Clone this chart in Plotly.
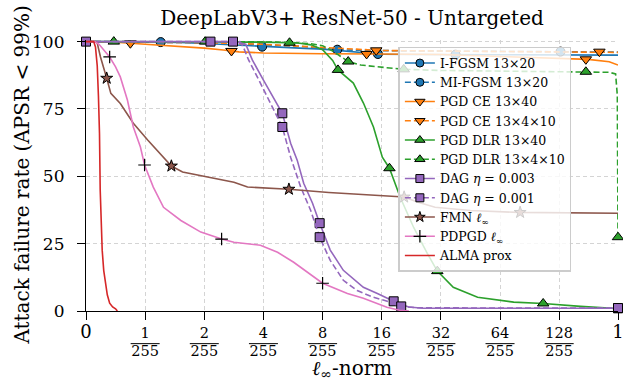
import numpy as np
import plotly.graph_objects as go

# ---------------- data (x in units of 1/255) ----------------
ifgsm_x = [0, 1, 1.5, 2, 3, 4, 5, 6.5, 8, 10, 12, 14, 16, 24, 32, 64, 128, 255]
ifgsm_y = [100, 99.9, 99.7, 99.3, 98.6, 98.1, 97.8, 97.5, 97.2, 96.6, 96.0, 95.6, 95.3, 95.2, 95.2, 95.1, 95.1, 95.0]
ifgsm_marks = [3.94, 15.3, 38]

mifgsm_x = [0, 1, 2, 3, 4, 6, 8, 9.5, 12, 16, 24, 32, 64, 128, 255]
mifgsm_y = [100, 99.9, 99.6, 99.2, 98.8, 98.3, 97.6, 97.0, 96.8, 96.6, 96.5, 96.5, 96.4, 96.3, 96.1]
mifgsm_marks = [1.2, 9.5, 130]

pgdce40_x = [0, 0.5, 1, 1.5, 2, 2.5, 3, 4, 6, 8, 16, 32, 64, 128, 180, 230, 255]
pgdce40_y = [100, 99.8, 99.0, 98.3, 97.6, 96.9, 96.2, 95.8, 95.6, 95.5, 95.4, 95.2, 94.5, 93.8, 93.4, 92.5, 91.3]
pgdce40_marks = [0.75, 2.75, 13.4, 175]

pgdce410_x = [0, 1, 2, 4, 8, 12, 16, 32, 64, 128, 200, 255]
pgdce410_y = [100, 99.9, 99.6, 99.0, 97.8, 97.0, 96.7, 96.5, 96.4, 96.3, 96.3, 96.0]
pgdce410_marks = [15.0, 205]

pgddlr40_x = [0, 2, 4, 6, 7, 8, 9, 9.58, 10.5, 11.47, 12.91, 14.52, 16.11, 17.51, 19.84, 23.26,
              27.28, 30.69, 37.0, 49.2, 75.1, 106.1, 164.3, 239, 255]
pgddlr40_y = [100, 100, 99.8, 99.5, 98.8, 97.0, 93.0, 89.5, 87.0, 84.6, 77.2, 68.3, 57.1, 53.0, 42.3, 31.0,
              21.4, 14.8, 8.8, 5.1, 3.3, 2.8, 1.7, 1.0, 0.3]
pgddlr40_marks = [0.47, 5.43, 9.58, 17.51, 30.69, 106.1]

pgddlr410_x = [0, 2, 4, 5.43, 7, 8, 9, 10.8, 12.5, 15, 17.15, 20.7, 32, 64, 128, 175, 230, 248, 253, 255]
pgddlr410_y = [100, 100, 99.9, 99.7, 99.2, 98.5, 96.5, 92.6, 91.3, 90.7, 90.3, 89.7, 89.3, 89.0, 88.9, 88.8,
               88.6, 88.0, 80.0, 27.4]
pgddlr410_marks = [2.02, 10.8, 20.7, 175, 255]

dag003_x = [0, 2.83, 3.25, 3.51, 4, 4.5, 4.99, 5.5, 5.94, 6.41, 7.11, 7.73, 8.75, 10.2, 12.9, 15.2,
            18.4, 21.9, 26, 32, 64, 128, 255]
dag003_y = [100, 100, 99, 93.2, 85.7, 79.4, 73.4, 62.3, 56, 47.4, 40, 32.6, 22.6, 15.1, 8.8, 6.5,
            3.6, 1.5, 1.0, 1.0, 1.0, 1.0, 1.0]
dag003_marks = [2.8, 4.99, 7.73, 18.4, 255]

dag001_x = [0, 3.03, 3.16, 3.36, 3.86, 4.44, 4.99, 5.5, 6.19, 6.96, 7.73, 8.75, 10.2, 12.0, 14.5, 16.6,
            20.1, 24, 32, 64, 128, 255]
dag001_y = [100, 100, 98, 93.2, 84.6, 75.7, 68.3, 57.1, 46, 37.3, 27.4, 18.8, 11.4, 7.6, 5.1, 3.9,
            1.7, 1.2, 1.1, 1.1, 1.1, 1.1]
dag001_marks = [0, 2.15, 4.99, 7.73, 20.1, 255]

fmn_x = [0, 0.15, 0.19, 0.245, 0.35, 0.42, 0.58, 0.8, 1.03, 1.24, 1.36, 1.55, 2.07, 2.83, 3.32, 5.39,
         8.6, 12.9, 16, 20.8, 24.25, 29.9, 45.3, 78.8, 255]
fmn_y = [100, 100, 99.5, 94.3, 86.4, 80.8, 77, 69.7, 63.5, 57.2, 53.8, 51.6, 49.7, 47.8, 46, 45.2,
         44, 43.3, 43.0, 42.3, 40.5, 38.5, 37.3, 36.6, 36.3]
fmn_marks = [0.35, 1.36, 5.39, 20.8, 81]

pdpgd_x = [0, 0.15, 0.22, 0.3, 0.4, 0.5, 0.58, 0.7, 0.8, 0.92, 0.99, 1.10, 1.24, 1.52, 1.92, 2.45,
           2.83, 3.86, 4.72, 5.70, 7.21, 8, 10.7, 12.9, 17.0, 19.7, 22]
pdpgd_y = [100, 100, 99, 96.9, 94.3, 90.6, 86.9, 78.3, 68.3, 60.9, 54.2, 46, 38.5, 33.6, 29.3, 26.7,
           25.5, 24.4, 21.8, 18.1, 12.5, 10.3, 6.5, 4.7, 1.4, 0.3, 0]
pdpgd_marks = [0.4, 0.99, 2.45, 8]

alma_x = [0, 0.13, 0.16, 0.19, 0.21, 0.228, 0.24, 0.255, 0.274, 0.30, 0.33, 0.36, 0.40, 0.45, 0.50, 0.53]
alma_y = [100, 100, 98, 91, 80, 66, 45, 33, 22.5, 15, 10.3, 6, 2.9, 1.5, 0.8, 0]
alma_marks = []

tick_x = [0, 1, 2, 4, 8, 16, 32, 64, 128, 255]
tick_labels = ["0", "1/255", "2/255", "4/255", "8/255", "16/255", "32/255", "64/255", "128/255", "1"]
y_ticks = [0, 25, 50, 75, 100]

FONT = "DejaVu Serif"
PLOT_W = 623 - 85.5 - 5.3
PLOT_H = 381 - 40.1 - 70.3


def pos(x):
    """linear below 1/255, log2 above (symlog-like scale)"""
    x = np.asarray(x, dtype=float)
    return np.where(x <= 1, x, 1 + np.log2(np.maximum(x, 1)))


series = [
    ("I-FGSM 13×20", ifgsm_x, ifgsm_y, ifgsm_marks, "#1f77b4", "solid", "circle", 9),
    ("MI-FGSM 13×20", mifgsm_x, mifgsm_y, mifgsm_marks, "#1f77b4", "6px,3px", "circle", 9),
    ("PGD CE 13×40", pgdce40_x, pgdce40_y, pgdce40_marks, "#ff7f0e", "solid", "triangle-down", 10),
    ("PGD CE 13×4×10", pgdce410_x, pgdce410_y, pgdce410_marks, "#ff7f0e", "6px,3px", "triangle-down", 10),
    ("PGD DLR 13×40", pgddlr40_x, pgddlr40_y, pgddlr40_marks, "#2ca02c", "solid", "triangle-up", 10),
    ("PGD DLR 13×4×10", pgddlr410_x, pgddlr410_y, pgddlr410_marks, "#2ca02c", "6px,3px", "triangle-up", 10),
    ("DAG <i>η</i> = 0.003", dag003_x, dag003_y, dag003_marks, "#9467bd", "solid", "square", 9),
    ("DAG <i>η</i> = 0.001", dag001_x, dag001_y, dag001_marks, "#9467bd", "6px,3px", "square", 9),
    ("FMN <i>ℓ</i><sub>∞</sub>", fmn_x, fmn_y, fmn_marks, "#8c564b", "solid", "star", 9),
    ("PDPGD <i>ℓ</i><sub>∞</sub>", pdpgd_x, pdpgd_y, pdpgd_marks, "#e377c2", "solid", "cross-thin", 9),
    ("ALMA prox", alma_x, alma_y, alma_marks, "#d62728", "solid", None, 0),
]

fig = go.Figure()
for name, xs, ys, marks, color, dash, sym, msize in series:
    px = pos(xs)
    fig.add_trace(go.Scatter(x=px, y=ys, mode="lines", line=dict(color=color, width=1.6, dash=dash),
                             showlegend=False, hoverinfo="skip"))
    if sym and len(marks):
        mx = pos(marks)
        my = np.interp(mx, px, ys)
        if sym == "cross-thin":
            mk = dict(symbol=sym, size=msize, color="black", line=dict(color="black", width=1.2))
        else:
            mk = dict(symbol=sym, size=msize, color=color, line=dict(color="black", width=1))
        fig.add_trace(go.Scatter(x=mx, y=my, mode="markers", marker=mk, showlegend=False,
                                 cliponaxis=False, hoverinfo="skip"))

# legend entries
for name, xs, ys, marks, color, dash, sym, msize in series:
    if sym:
        if sym == "cross-thin":
            mk = dict(symbol=sym, size=msize, color="black", line=dict(color="black", width=1.2))
        else:
            mk = dict(symbol=sym, size=msize - 1, color=color, line=dict(color="black", width=1))
        mode = "lines+markers"
    else:
        mk = None
        mode = "lines"
    fig.add_trace(go.Scatter(x=[-5], y=[-50], mode=mode, name=name,
                             line=dict(color=color, width=1.6, dash=dash), marker=mk))

tickvals = list(pos(tick_x))
ticktext = []
for lab in tick_labels:
    if "/" in lab:
        n, d = lab.split("/")
        ticktext.append(f"{n}<br>{d}")
    else:
        ticktext.append(f'<span style="font-size:18px">{lab}</span>')

xmax = float(pos(255))
shapes = []
for v, lab in zip(tickvals, tick_labels):
    if "/" in lab:
        xc = v / xmax
        hw = 14.5 / PLOT_W
        yb = (310.7 - 343.3) / PLOT_H
        shapes.append(dict(type="line", xref="paper", yref="paper", x0=xc - hw, x1=xc + hw,
                           y0=yb, y1=yb, line=dict(color="black", width=1)))

annotations = [
    dict(text="Attack failure rate (APSR &lt; 99%)", xref="paper", yref="paper",
         x=(22 - 85.5) / PLOT_W, y=(310.7 - 175) / PLOT_H, xanchor="center", yanchor="middle",
         textangle=-90, showarrow=False, font=dict(size=20)),
    dict(text="<i>ℓ</i><sub>∞</sub>-norm", xref="paper", yref="paper",
         x=0.5, y=(310.7 - 369) / PLOT_H, xanchor="center", yanchor="middle",
         showarrow=False, font=dict(size=20)),
]

fig.update_layout(
    width=623, height=381,
    margin=dict(l=85.5, r=5.3, t=40.1, b=70.3),
    paper_bgcolor="white", plot_bgcolor="white",
    font=dict(family=FONT, color="black"),
    title=dict(text="DeepLabV3+ ResNet-50 - Untargeted", x=0.5, xref="paper", xanchor="center",
               y=1 - 18 / 381, yref="container", yanchor="middle", font=dict(size=20)),
    shapes=shapes,
    annotations=annotations,
    legend=dict(x=(398 - 85.5) / PLOT_W, y=(310.7 - 47) / PLOT_H, xanchor="left", yanchor="top",
                bgcolor="rgba(255,255,255,0.8)", bordercolor="#cccccc", borderwidth=1.5,
                font=dict(size=12.5, family=FONT), tracegroupgap=0,
                entrywidth=165, entrywidthmode="pixels"),
)
fig.update_xaxes(range=[0, xmax], tickvals=tickvals, ticktext=ticktext, tickfont=dict(size=14.5),
                 showline=True, linecolor="black", linewidth=1.2, ticks="outside", ticklen=8,
                 tickwidth=1.2, tickcolor="black", showgrid=True, gridcolor="#d4d4d4", griddash="4px,3px",
                 gridwidth=0.9, zeroline=False, automargin=False, ticklabeloverflow="allow")
fig.update_yaxes(range=[0, 100.6], tickvals=y_ticks, tickfont=dict(size=17),
                 showline=True, linecolor="black", linewidth=1.2, ticks="outside", ticklen=8,
                 tickwidth=1.2, tickcolor="black", showgrid=True, gridcolor="#d4d4d4", griddash="4px,3px",
                 gridwidth=0.9, zeroline=False, ticklabelstandoff=9, automargin=False)

fig.write_html("out.html", config={"displayModeBar": False},
               post_script="document.body.style.margin='0';")
